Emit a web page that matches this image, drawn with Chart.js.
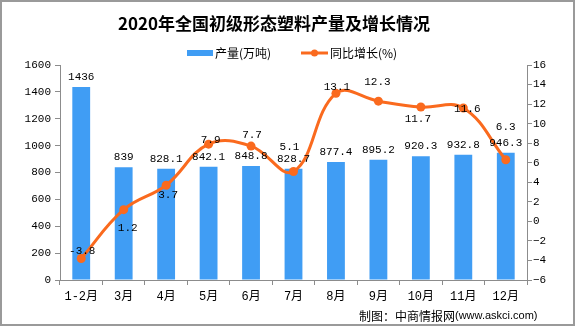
<!DOCTYPE html>
<html>
<head>
<meta charset="utf-8">
<script src="https://cdn.jsdelivr.net/npm/chart.js@4"></script>
<style>
html,body{margin:0;padding:0;background:#fff;}
#wrap{width:575px;height:326px;position:relative;}
</style>
</head>
<body>
<div id="wrap"><canvas id="c" width="575" height="326"></canvas></div>
<script>
const categories = ["1-2月","3月","4月","5月","6月","7月","8月","9月","10月","11月","12月"];
const outputValues = [1436, 839, 828.1, 842.1, 848.8, 828.7, 877.4, 895.2, 920.3, 932.8, 946.3];
const growthValues = [-3.8, 1.2, 3.7, 7.9, 7.7, 5.1, 13.1, 12.3, 11.7, 11.6, 6.3];
const leftTicks = [0, 200, 400, 600, 800, 1000, 1200, 1400, 1600];
const rightTicks = [-6, -4, -2, 0, 2, 4, 6, 8, 10, 12, 14, 16];
const growthLabelOffsets = [[1,-7],[4,18],[2,10],[2,-4],[1,-11],[-4,-24],[1,-6],[-1,-19],[-3,12],[4,1],[0,-33]];

const BAR = '#409DF4';
const LINE = '#FA6A1E';
const AXIS = '#8c8c8c';
const NUMFONT = '"Liberation Mono","Noto Sans CJK SC",monospace';
const CJK = '"Noto Sans CJK SC",sans-serif';

const decor = {
  id: 'decor',
  afterDraw(chart) {
    const ctx = chart.ctx;
    ctx.save();
    ctx.strokeStyle = '#9a9a9a';
    ctx.lineWidth = 2;
    ctx.strokeRect(1, 1, 573, 324);
    ctx.fillStyle = '#000';
    ctx.font = 'bold 17px ' + CJK;
    ctx.textAlign = 'center';
    ctx.textBaseline = 'middle';
    ctx.fillText('2020年全国初级形态塑料产量及增长情况', 274, 24);
    ctx.font = '12px ' + CJK;
    ctx.textAlign = 'left';
    ctx.fillStyle = BAR;
    ctx.fillRect(187, 50, 26, 6);
    ctx.fillStyle = '#000';
    ctx.fillText('产量(万吨)', 215, 53);
    ctx.strokeStyle = LINE;
    ctx.lineWidth = 3;
    ctx.beginPath(); ctx.moveTo(301, 53); ctx.lineTo(328, 53); ctx.stroke();
    ctx.fillStyle = LINE;
    ctx.beginPath(); ctx.arc(314.5, 53, 3.5, 0, Math.PI*2); ctx.fill();
    ctx.fillStyle = '#000';
    ctx.fillText('同比增长(%)', 330, 53);
    ctx.font = '12px ' + CJK;
    ctx.textAlign = 'left';
    ctx.fillText('制图：中商情报网', 359, 316);
    ctx.font = '11px "Liberation Sans",sans-serif';
    ctx.fillText('(www.askci.com)', 455, 316);
    ctx.restore();
  },
  afterDatasetsDraw(chart) {
    const ctx = chart.ctx;
    ctx.save();
    ctx.fillStyle = '#000';
    ctx.font = '11px ' + NUMFONT;
    ctx.textAlign = 'center';
    ctx.textBaseline = 'middle';
    const barMeta = chart.getDatasetMeta(0);
    barMeta.data.forEach((el, i) => {
      ctx.fillText(String(outputValues[i]), el.x, el.y - 10);
    });
    const lineMeta = chart.getDatasetMeta(1);
    lineMeta.data.forEach((el, i) => {
      const o = growthLabelOffsets[i];
      ctx.fillText(String(growthValues[i]), el.x + o[0], el.y + o[1]);
    });
    ctx.restore();
  }
};

new Chart(document.getElementById('c'), {
  data: {
    labels: categories,
    datasets: [
      {
        type: 'bar', label: '产量(万吨)', data: outputValues, yAxisID: 'y',
        backgroundColor: BAR, barPercentage: 0.42, categoryPercentage: 1, order: 2
      },
      {
        type: 'line', label: '同比增长(%)', data: growthValues, yAxisID: 'y1',
        borderColor: LINE, backgroundColor: LINE, borderWidth: 3, tension: 0.4,
        pointRadius: 4.5, pointHoverRadius: 4.5, pointBackgroundColor: LINE, pointBorderWidth: 0, order: 1
      }
    ]
  },
  options: {
    responsive: false,
    animation: false,
    events: [],
    layout: { padding: { top: 65, left: 0, right: 0, bottom: 0 } },
    plugins: { legend: { display: false }, title: { display: false }, tooltip: { enabled: false } },
    scales: {
      x: {
        offset: true,
        grid: { display: true, offset: true, drawOnChartArea: false, drawTicks: true, tickLength: 5, color: AXIS },
        border: { color: AXIS, width: 1 },
        ticks: { color: '#000', font: { family: NUMFONT, size: 12 }, padding: 5, maxRotation: 0, autoSkip: false },
        afterFit(s) { s.height = 46; }
      },
      y: {
        position: 'left', min: 0, max: 1600,
        afterBuildTicks(s) { s.ticks = leftTicks.map(v => ({ value: v })); },
        grid: { drawOnChartArea: false, drawTicks: true, tickLength: 5, color: AXIS },
        border: { color: AXIS, width: 1 },
        ticks: { color: '#000', font: { family: NUMFONT, size: 11 }, padding: 4, callback: v => String(v) },
        afterFit(s) { s.width = 60; }
      },
      y1: {
        position: 'right', min: -6, max: 16,
        afterBuildTicks(s) { s.ticks = rightTicks.map(v => ({ value: v })); },
        grid: { drawOnChartArea: false, drawTicks: true, tickLength: 5, color: AXIS },
        border: { color: AXIS, width: 1 },
        ticks: { color: '#000', font: { family: NUMFONT, size: 11 }, padding: 1,
          callback: v => (v < 0 ? '\u2212' + Math.abs(v) : String(v)) },
        afterFit(s) { s.width = 48; }
      }
    }
  },
  plugins: [decor]
});
</script>
</body>
</html>
